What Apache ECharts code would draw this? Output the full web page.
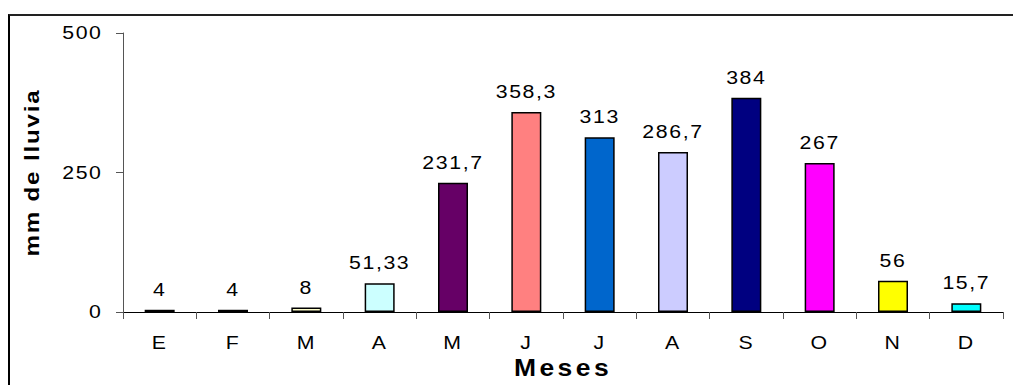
<!DOCTYPE html>
<html>
<head>
<meta charset="utf-8">
<script src="https://cdn.jsdelivr.net/npm/echarts@6/dist/echarts.min.js"></script>
<style>
  html, body { margin: 0; padding: 0; background: #fff; overflow: hidden; }
  .frame {
    position: absolute;
    left: 8px;
    top: 14px;
    width: 1100px;
    height: 500px;
    border-top: 2px solid #222;
    border-left: 2px solid #000;
  }
  #chart { position: absolute; left: 0; top: 0; width: 1013px; height: 385px; }
  /* Excel-like loose character spacing */
  #chart text { letter-spacing: 1.4px; }
  #chart text[style*="21px"] { letter-spacing: 1.6px; }
  #chart text[style*="23px"] { letter-spacing: 3px; }
</style>
</head>
<body>
<div class="frame"></div>
<div id="chart"></div>
<script>
const months = ['E', 'F', 'M', 'A', 'M', 'J', 'J', 'A', 'S', 'O', 'N', 'D']
const rainfall = [4, 4, 8, 51.33, 231.7, 358.3, 313, 286.7, 384, 267, 56, 15.7]
const barColors = ['#9999FF', '#993366', '#FFFFCC', '#CCFFFF', '#660066', '#FF8080',
  '#0066CC', '#CCCCFF', '#000080', '#FF00FF', '#FFFF00', '#00FFFF']
const yTicks = [0, 250, 500]

const font = 'Liberation Sans, Arial, sans-serif'
const txt = { fontFamily: font, color: '#000' }
// the original (Excel) text is a bit stretched along its reading direction
const TEXT_STRETCH = 1.15

const chartDom = document.getElementById('chart')
const chart = echarts.init(chartDom, null, { renderer: 'svg' })
chart.setOption({
  animation: false,
  grid: { left: 123, right: 10, top: 33, bottom: 73 },
  xAxis: {
    type: 'category',
    data: months,
    name: 'Meses',
    nameLocation: 'middle',
    nameGap: 44,
    nameTextStyle: { ...txt, fontSize: 23, fontWeight: 'bold' },
    axisLine: { lineStyle: { color: '#000', width: 1 } },
    axisTick: { show: true, length: 7, lineStyle: { color: '#555' } },
    axisLabel: { ...txt, margin: 21, fontSize: 18.5 },
  },
  yAxis: {
    type: 'value',
    min: yTicks[0],
    max: yTicks[yTicks.length - 1],
    interval: yTicks[1] - yTicks[0],
    name: 'mm de lluvia',
    nameLocation: 'middle',
    nameGap: 80,
    nameTextStyle: { ...txt, fontSize: 21, fontWeight: 'bold' },
    axisLine: { show: true, lineStyle: { color: '#555', width: 1 } },
    axisTick: { show: true, length: 7, lineStyle: { color: '#555' } },
    axisLabel: { ...txt, margin: 20.5, fontSize: 18.5 },
    splitLine: { show: false },
  },
  series: [
    {
      type: 'bar',
      barWidth: 30,
      data: rainfall.map((v, i) => ({ value: v, itemStyle: { color: barColors[i] } })),
      itemStyle: { borderColor: '#000', borderWidth: 1.5 },
      label: {
        ...txt,
        show: true,
        position: 'top',
        distance: 11,
        fontSize: 18.5,
        formatter: (p) => String(p.value).replace('.', ','),
      },
    },
  ],
})

function stretchTexts() {
  chartDom.querySelectorAll('text').forEach((t) => {
    if (t.dataset.stretched) return
    const tr = t.getAttribute('transform') || ''
    t.setAttribute('transform', tr + ' scale(' + TEXT_STRETCH + ' 1)')
    t.dataset.stretched = '1'
  })
}
stretchTexts()
chart.on('finished', stretchTexts)
</script>
</body>
</html>
